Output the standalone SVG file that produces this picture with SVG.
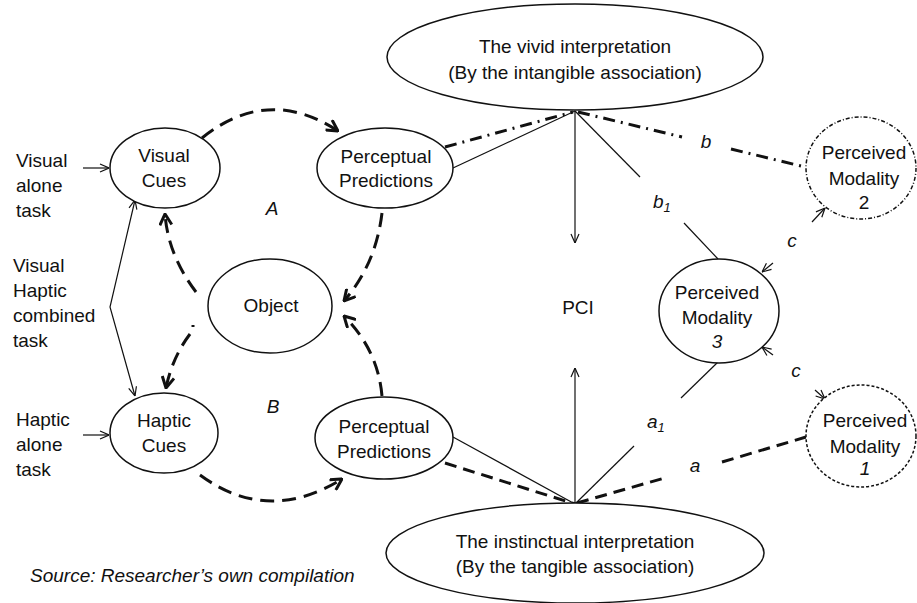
<svg xmlns="http://www.w3.org/2000/svg" width="917" height="603" viewBox="0 0 917 603">
<style>
text{font-family:"Liberation Sans",Arial,sans-serif;font-size:19px;fill:#111;}
.c{text-anchor:middle;}
.i{font-style:italic;}
.node{fill:#fff;stroke:#111;stroke-width:1.5;}
.thin{fill:none;stroke:#111;stroke-width:1.2;}
.loop{fill:none;stroke:#111;stroke-width:3;stroke-dasharray:14 8;}
.dd{fill:none;stroke:#111;stroke-width:3;stroke-dasharray:12 6 2 6;}
.dash{fill:none;stroke:#111;stroke-width:3;stroke-dasharray:12 7;}
</style>
<defs>
<marker id="ah" viewBox="0 0 10 10" refX="10" refY="5" markerWidth="10" markerHeight="10" markerUnits="userSpaceOnUse" orient="auto-start-reverse">
<path d="M1,1 L10,5 L1,9" fill="none" stroke="#111" stroke-width="1.2"/>
</marker>
<marker id="ahb" viewBox="0 0 14 14" refX="13" refY="7" markerWidth="14" markerHeight="14" markerUnits="userSpaceOnUse" orient="auto">
<path d="M2,1 L13,7 L2,13" fill="none" stroke="#111" stroke-width="3"/>
</marker>
</defs>
<g id="connectors">
<!-- loop -->
<path class="loop" d="M202,138 Q268,85 338,131" marker-end="url(#ahb)"/>
<path class="loop" d="M382,213 Q376,264 344,301" marker-end="url(#ahb)"/>
<path class="loop" d="M196,292 Q168,255 165,214" marker-end="url(#ahb)"/>
<path class="loop" d="M190,334 Q172,358 166,388" marker-end="url(#ahb)"/>
<line x1="193" y1="325" x2="193" y2="327" stroke="#111" stroke-width="3"/>
<path class="loop" d="M200,475 Q268,525 342,479" marker-end="url(#ahb)"/>
<path class="loop" d="M382,396 Q378,350 344,316" marker-end="url(#ahb)"/>
<!-- task inputs -->
<line class="thin" x1="83" y1="168" x2="109" y2="168" marker-end="url(#ah)"/>
<line class="thin" x1="83" y1="435" x2="109" y2="435" marker-end="url(#ah)"/>
<path class="thin" d="M135,200 L110,307 L135,396" marker-start="url(#ah)" marker-end="url(#ah)"/>
<!-- PCI arrows -->
<line class="thin" x1="575" y1="111" x2="575" y2="243" marker-end="url(#ah)"/>
<line class="thin" x1="575" y1="503" x2="575" y2="368" marker-end="url(#ah)"/>
<!-- top apex -->
<line class="thin" x1="453" y1="168" x2="575" y2="111"/>
<line class="dd" x1="445" y1="147" x2="573" y2="112"/>
<line class="dd" x1="578" y1="112" x2="682" y2="137"/>
<line class="dd" x1="731" y1="149" x2="805" y2="167"/>
<line class="thin" x1="575" y1="111" x2="640" y2="177"/>
<line class="thin" x1="684" y1="223" x2="718" y2="259"/>
<!-- bottom apex -->
<line class="thin" x1="453" y1="437" x2="575" y2="504"/>
<line class="dash" x1="445" y1="463" x2="575" y2="504"/>
<line class="dash" x1="577" y1="503" x2="668" y2="477"/>
<line class="dash" x1="722" y1="462" x2="806" y2="437"/>
<line class="thin" x1="575" y1="504" x2="634" y2="446"/>
<line class="thin" x1="681" y1="398" x2="718" y2="362"/>
<!-- c arrows -->
<line class="thin" x1="812" y1="222" x2="825" y2="208" marker-end="url(#ah)"/>
<line class="thin" x1="773" y1="263" x2="762" y2="272" marker-end="url(#ah)"/>
<line class="thin" x1="773" y1="355" x2="762" y2="347" marker-end="url(#ah)"/>
<line class="thin" x1="815" y1="390" x2="825" y2="399" marker-end="url(#ah)"/>
</g>
<g id="vivid">
<ellipse class="node" cx="575" cy="57" rx="188" ry="53"/>
<text class="c" x="575" y="53">The vivid interpretation</text>
<text class="c" x="575" y="79">(By the intangible association)</text>
</g>
<g id="instinctual">
<ellipse class="node" cx="575" cy="553" rx="189" ry="50"/>
<text class="c" x="575" y="548">The instinctual interpretation</text>
<text class="c" x="575" y="573">(By the tangible association)</text>
</g>
<g id="visual-cues">
<ellipse class="node" cx="165" cy="168" rx="55" ry="40"/>
<text class="c" x="164" y="162">Visual</text>
<text class="c" x="164" y="187">Cues</text>
</g>
<g id="haptic-cues">
<ellipse class="node" cx="164" cy="433" rx="54" ry="40"/>
<text class="c" x="164" y="427">Haptic</text>
<text class="c" x="164" y="452">Cues</text>
</g>
<g id="object">
<ellipse class="node" cx="270" cy="306" rx="62" ry="47"/>
<text class="c" x="271" y="312">Object</text>
</g>
<g id="pp-top">
<ellipse class="node" cx="385" cy="168" rx="68" ry="40"/>
<text class="c" x="386" y="163">Perceptual</text>
<text class="c" x="386" y="187">Predictions</text>
</g>
<g id="pp-bottom">
<ellipse class="node" cx="384" cy="438" rx="69" ry="41"/>
<text class="c" x="384" y="433">Perceptual</text>
<text class="c" x="384" y="458">Predictions</text>
</g>
<g id="pm3">
<ellipse class="node" cx="719" cy="311" rx="60" ry="52"/>
<text class="c" x="717" y="299">Perceived</text>
<text class="c" x="717" y="324">Modality</text>
<text class="c i" x="717" y="348">3</text>
</g>
<g id="pm2">
<ellipse class="node" cx="861" cy="168" rx="55" ry="51" stroke-width="1.2" stroke-dasharray="4 2 1 2"/>
<text class="c" x="864" y="159">Perceived</text>
<text class="c" x="864" y="185">Modality</text>
<text class="c" x="864" y="209">2</text>
</g>
<g id="pm1">
<ellipse class="node" cx="861" cy="436" rx="55" ry="51" stroke-width="1.2" stroke-dasharray="3 2"/>
<text class="c" x="865" y="427">Perceived</text>
<text class="c" x="865" y="453">Modality</text>
<text class="c i" x="865" y="475">1</text>
</g>
<g id="labels">
<text x="16" y="167">Visual</text>
<text x="16" y="192">alone</text>
<text x="16" y="217">task</text>
<text x="13" y="272">Visual</text>
<text x="13" y="297">Haptic</text>
<text x="13" y="322">combined</text>
<text x="13" y="347">task</text>
<text x="16" y="426">Haptic</text>
<text x="16" y="451">alone</text>
<text x="16" y="476">task</text>
<text class="c i" x="272" y="215">A</text>
<text class="c i" x="273" y="413">B</text>
<text class="c" x="578" y="314">PCI</text>
<text class="c i" x="706" y="148">b</text>
<text class="i" x="653" y="208">b<tspan font-size="13" dy="4">1</tspan></text>
<text class="c i" x="792" y="247">c</text>
<text class="c i" x="796" y="377">c</text>
<text class="i" x="647" y="428">a<tspan font-size="13" dy="4">1</tspan></text>
<text class="c i" x="695" y="472">a</text>
<text class="i" x="30" y="582" font-size="18">Source: Researcher’s own compilation</text>
</g>
</svg>
